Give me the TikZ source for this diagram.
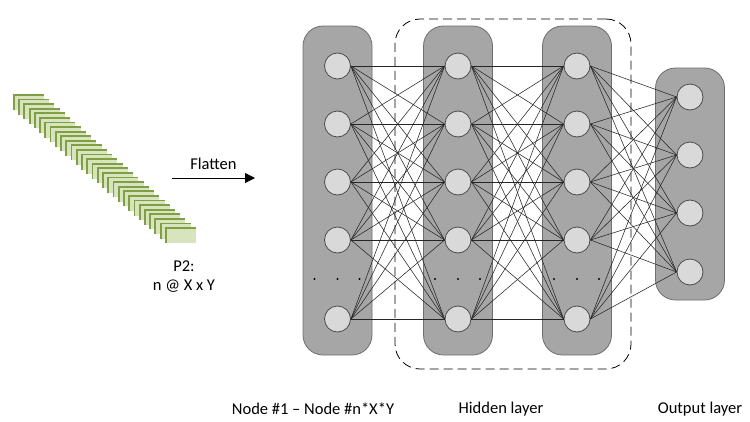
\documentclass[tikz,border=0pt]{standalone}
\usepackage{fontspec}
\setmainfont{Carlito}
\usepackage{xcolor}
\usetikzlibrary{positioning,arrows.meta,calc}

\definecolor{boxgray}{HTML}{A6A6A6}
\definecolor{boxedge}{HTML}{6E6E6E}
\definecolor{cellgray}{HTML}{D9D9D9}
\definecolor{slicelight}{HTML}{D7E4BD}
\definecolor{slicedark}{HTML}{7F9F45}

\begin{document}
\begin{tikzpicture}[x=1pt, y=-1pt,
      neuron/.style={circle, draw=black!70, fill=cellgray, minimum size=26pt, inner sep=0pt, line width=0.8pt},
      layerbox/.style={draw=boxedge, fill=boxgray, rounded corners=20pt, minimum width=69pt, line width=0.8pt},
      link/.style={black!85, line width=0.55pt},
      lab/.style={font=\fontsize{16.5}{19}\selectfont, inner sep=0pt},
      arr/.style={-{Triangle[length=10pt, width=10pt]}, line width=0.8pt}]
    \useasboundingbox (0,0) rectangle (750,421);
    % flattened feature maps
    \foreach \k in {0,...,29} {
      \fill[slicedark] ({13+\k*5.24},{94+\k*4.59}) rectangle +(31,16);
      \fill[slicelight] ({14.8+\k*5.24},{95.8+\k*4.59}) rectangle +(29.2,14.2);
    }
    \node[lab, align=center] (p2) at (184,277) {P2:\\n @ X x Y};
    \coordinate (fl0) at (172,178);
    \coordinate (fl1) at (255,178);
    \draw[arr] (fl0) -- (fl1) node[lab, midway, above=8pt] (flat) {Flatten};
    % layers
    \node[layerbox, minimum height=329pt] (inbox) at (337.5,190.5) {};
    \node[layerbox, minimum height=329pt] (h1box) at (458,190.5) {};
    \node[layerbox, minimum height=329pt] (h2box) at (577,190.5) {};
    \node[layerbox, minimum height=232pt] (outbox) at (690,184) {};
    \node[draw, dash pattern=on 9pt off 5pt, rounded corners=25pt, minimum width=236pt, minimum height=350pt, line width=0.8pt] (hidden) at (513,194) {};
    \foreach \y [count=\i] in {66,124,182,240,319} {
      \node[neuron] (a\i) at (337.5,\y) {};
      \node[neuron] (b\i) at (458,\y) {};
      \node[neuron] (c\i) at (577,\y) {};
    }
    \foreach \y [count=\i] in {97,155,213,272}
      \node[neuron] (o\i) at (690,\y) {};
    \foreach \x in {337.5,458,577}
      \foreach \d in {-23,0,22}
        \fill ({\x+\d},279) circle (1.2pt);
    % connections
    \foreach \i in {1,...,5}
      \foreach \j in {1,...,5} {
        \draw[link] (a\i.east) -- (b\j.west);
        \draw[link] (b\i.east) -- (c\j.west);
      }
    \foreach \i in {1,...,5}
      \foreach \j in {1,...,4}
        \draw[link] (c\i.east) -- (o\j.west);
    % labels
    \node[lab] (inlab) at (313,409) {Node \#1 -- Node \#n*X*Y};
    \node[lab] (hidlab) at (501,409) {Hidden layer};
    \node[lab] (outlab) at (700,409) {Output layer};
  \end{tikzpicture}
\end{document}
